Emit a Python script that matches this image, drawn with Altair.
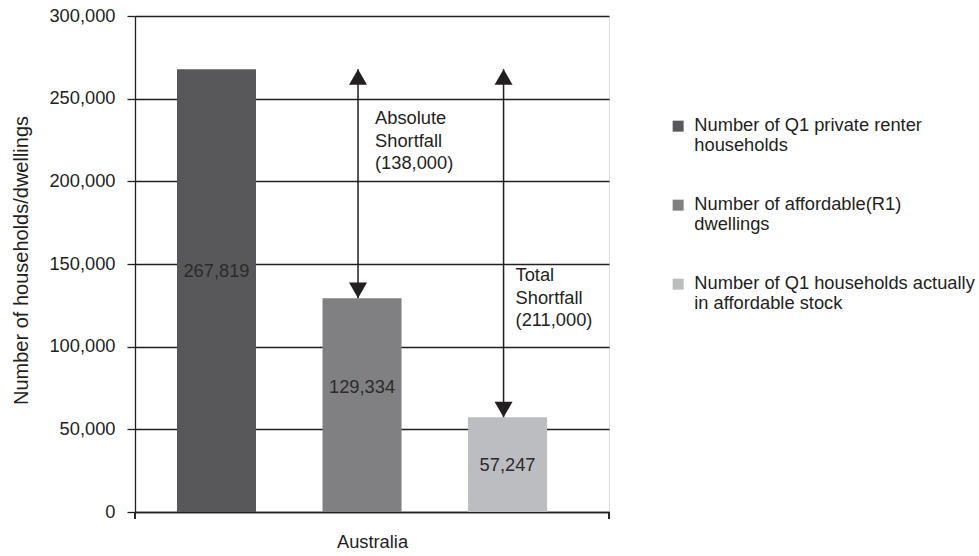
import altair as alt
import pandas as pd

# ---------------- data ----------------
series = [
    "Number of Q1 private renter households",
    "Number of affordable(R1) dwellings",
    "Number of Q1 households actually in affordable stock",
]
legend_lines = [
    ["Number of Q1 private renter", "households"],
    ["Number of affordable(R1)", "dwellings"],
    ["Number of Q1 households actually", "in affordable stock"],
]
values = [267819, 129334, 57247]
value_labels = ["267,819", "129,334", "57,247"]
value_label_y = [145000, 75000, 28000]
colors = ["#58585a", "#808083", "#bcbdc1"]
category = "Australia"
y_ticks = [0, 50000, 100000, 150000, 200000, 250000, 300000]

arrow_series = [series[1], series[2]]
arrow_top = [267819, 267819]
arrow_bottom = [129334, 57247]
annot_text = ["Absolute|Shortfall|(138,000)", "Total|Shortfall|(211,000)"]
annot_y = [243000, 148000]
annot_dx = [13, 8]

# ---------------- tables ----------------
bars = pd.DataFrame({"series": series, "value": values,
                     "label": value_labels, "label_y": value_label_y})
arrows = pd.DataFrame({"series": arrow_series, "top": arrow_top, "bottom": arrow_bottom})

FONT = "Liberation Sans"
FS = 18.3
INK = "#231f20"
W, H = 474, 496

label_expr = " : ".join(
    f"datum.label == '{s}' ? {lines!r}" for s, lines in zip(series, legend_lines)
) + " : datum.label"

x_enc = alt.X(
    "series:N",
    scale=alt.Scale(domain=series, paddingInner=0.457, paddingOuter=0.357, align=0.404),
    axis=alt.Axis(title=category, labels=False, ticks=False, domain=True,
                  domainColor=INK, domainWidth=1.3, titleFont=FONT, titleFontSize=FS,
                  titleFontWeight="normal", titleColor=INK, titlePadding=21),
)
y_scale = alt.Scale(domain=[0, 300000], nice=False)

bar_layer = alt.Chart(bars).mark_bar().encode(
    x=x_enc,
    y=alt.Y("value:Q", scale=y_scale,
            axis=alt.Axis(title="Number of households/dwellings", values=y_ticks, format=",.0f",
                          grid=True, gridColor=INK, gridWidth=1.3, gridOpacity=1,
                          tickSize=8, tickColor=INK, tickWidth=1.3,
                          domainColor=INK, domainWidth=1.3,
                          labelFont=FONT, labelFontSize=FS, labelColor=INK, labelPadding=12,
                          titleFont=FONT, titleFontSize=20, titleFontWeight="normal",
                          titleColor=INK, titlePadding=17, titleY=244)),
    color=alt.Color("series:N", scale=alt.Scale(domain=series, range=colors),
                    legend=alt.Legend(title=None, orient="none", legendX=534, legendY=101,
                                      symbolType="square", symbolSize=121, symbolStrokeWidth=0,
                                      symbolOpacity=1,
                                      labelFont=FONT, labelFontSize=FS, labelColor=INK,
                                      labelOffset=7, labelBaseline="middle", labelLimit=400,
                                      rowPadding=40, labelExpr=label_expr)),
)

value_text = alt.Chart(bars).mark_text(font=FONT, fontSize=FS, color="#2b2b2b",
                                       baseline="middle").encode(
    x=alt.X("series:N", scale=alt.Scale(domain=series)),
    y=alt.Y("label_y:Q", scale=y_scale),
    text="label:N",
)

shaft = alt.Chart(arrows).mark_rule(color=INK, strokeWidth=1.5, xOffset=-4).encode(
    x=alt.X("series:N", scale=alt.Scale(domain=series)),
    y=alt.Y("top:Q", scale=y_scale),
    y2="bottom:Q",
)
head_up = alt.Chart(arrows).mark_point(shape="triangle-up", filled=True, size=324, opacity=1,
                                       color=INK, xOffset=-4, yOffset=7.8).encode(
    x=alt.X("series:N", scale=alt.Scale(domain=series)),
    y=alt.Y("top:Q", scale=y_scale),
)
head_down = alt.Chart(arrows).mark_point(shape="triangle-down", filled=True, size=324, opacity=1,
                                         color=INK, xOffset=-4, yOffset=-7.8).encode(
    x=alt.X("series:N", scale=alt.Scale(domain=series)),
    y=alt.Y("bottom:Q", scale=y_scale),
)

annot_layers = []
for s, t, yv, dx in zip(arrow_series, annot_text, annot_y, annot_dx):
    df = pd.DataFrame({"series": [s], "txt": [t], "y": [yv]})
    annot_layers.append(
        alt.Chart(df).transform_calculate(lines="split(datum.txt, '|')")
        .mark_text(font=FONT, fontSize=FS, color=INK, align="left", baseline="top",
                   lineHeight=22.5, dx=dx)
        .encode(x=alt.X("series:N", scale=alt.Scale(domain=series)),
                y=alt.Y("y:Q", scale=y_scale),
                text="lines:N")
    )

edge_tick_l = alt.Chart(bars).mark_rule(color=INK, strokeWidth=1.3).encode(
    x=alt.value(0), y=alt.value(H), y2=alt.value(H + 7))
edge_tick_r = alt.Chart(bars).mark_rule(color=INK, strokeWidth=1.3).encode(
    x=alt.value(W), y=alt.value(H), y2=alt.value(H + 7))

chart = alt.layer(bar_layer, value_text, shaft, head_up, head_down, *annot_layers,
                  edge_tick_l, edge_tick_r).properties(
    width=W, height=H,
    autosize=alt.AutoSizeParams(type="none"),
    padding={"left": 135, "top": 16, "right": 370, "bottom": 44},
).configure_view(stroke=INK, strokeWidth=1.3).configure(background="white")

chart.save("out.html", embed_options={"renderer": "svg", "actions": False})
